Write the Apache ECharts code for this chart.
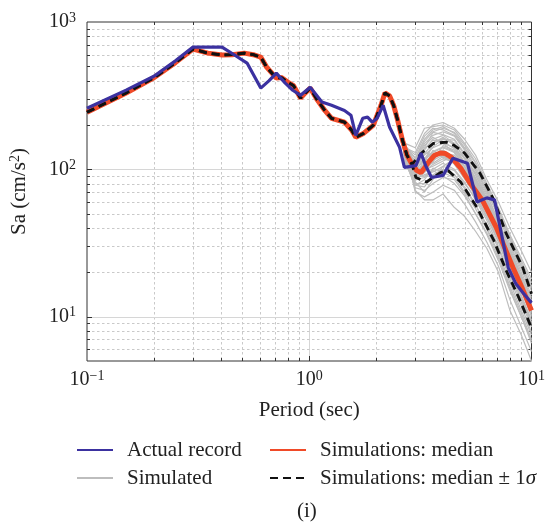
<!DOCTYPE html>
<html>
<head>
<meta charset="utf-8">
<script src="https://cdn.jsdelivr.net/npm/echarts@6/dist/echarts.min.js"></script>
<style>html,body{margin:0;padding:0;background:#fff}#c{width:548px;height:524px}</style>
</head>
<body>
<div id="c"></div>
<script>
// ---- data ----
const actualPeriods = [0.1,0.15,0.2,0.25,0.3,0.405,0.461,0.525,0.605,0.66,0.711,0.78,0.843,0.914,1.01,1.14,1.26,1.44,1.54,1.62,1.74,1.83,1.92,2.02,2.15,2.3,2.55,2.68,3.02,3.18,3.34,3.55,4.0,4.43,5.15,5.69,6.29,6.82,7.86,8.51,9.23,10];
const actualSa      = [260,345,428,545,676,676,597,526,356,400,450,385,344,318,361,286,272,251,233,170,222,226,209,222,272,193,141,103,106,129,106,88,91,119,110,60,64,62,21.5,16.7,14.3,12.4];

const medianPeriods = [0.1,0.15,0.2,0.25,0.3,0.35,0.405,0.45,0.51,0.56,0.605,0.643,0.711,0.75,0.8,0.85,0.914,0.96,1.01,1.08,1.175,1.26,1.44,1.55,1.62,1.76,1.94,2.1,2.19,2.3,2.4,2.5,2.62,2.75,2.9,3.05,3.18,3.3,3.44,3.65,3.89,4.1,4.35,4.8,5.31,6.0,6.96,8.26,9.1,10];
const medianSa      = [244,330,418,530,655,615,597,600,615,600,578,494,416,420,391,370,304,330,356,300,251,222,209,185,165,176,199,270,330,315,270,215,160,125,108,98,95,102,112,124,129,128,121,102,80,62,40,21.5,15.5,11];

const splitPeriod = 2.9; // +/- 1 sigma coincide with the median up to here
const upperPeriods = [3.2,3.62,4.13,4.5,5.0,5.87,6.77,7.69,9.14,10];
const upperSa      = [129,150,153,145,129,94,62,36.7,21.5,14.3];
const lowerPeriods = [3.02,3.37,3.89,4.22,4.8,5.69,6.77,7.69,8.76,10];
const lowerSa      = [88,82,95,98,82,55,32.9,20.6,13.5,8.4];

const simPeriods = [2.62,2.7,3.0,3.3,3.6,4.0,4.5,5.0,5.6,6.3,7.1,8.0,9.0,10.0];
const simulatedSa = [
  [160,140,130,175,200,208,190,160,125,85,60,40,28,20],
  [160,140,120,160,185,195,175,140,110,75,52,35,24,17],
  [160,135,115,150,170,180,168,135,100,70,48,31,21,15],
  [160,140,105,135,160,170,150,120,92,66,45,29,19,13.5],
  [160,130,110,125,140,150,140,118,95,68,44,28,18,12.5],
  [160,140,100,115,130,140,130,105,82,60,40,26,17,11.5],
  [160,125,95,105,120,128,125,100,76,55,37,24,16,10.5],
  [160,140,90,95,108,118,112,92,70,50,34,22,14,9.5],
  [160,120,85,88,100,110,100,82,62,45,30,19,12.5,8.5],
  [160,140,80,80,90,98,92,76,58,40,27,17,11,7.5],
  [160,115,75,72,80,88,85,68,50,36,24,15,10,6.8],
  [160,140,70,65,70,78,72,58,44,32,22,13,8.5,5.8],
  [160,130,72,62,62,68,55,48,38,29,20,11,7.5,5],
  [160,140,95,110,150,165,145,110,80,58,41,27,18,12],
  [160,135,100,130,125,135,120,98,85,62,43,30,20,14],
  [160,150,140,190,195,200,185,150,118,80,55,36,25,18],
  [160,128,108,140,178,172,160,128,98,72,50,33,22,16],
  [160,118,92,100,135,120,115,96,74,54,38,25,16,11],
  [160,110,86,92,96,105,118,98,72,51,35,23,15,10],
  [160,132,100,98,112,145,135,112,86,63,42,27,18,12],
  [160,124,78,85,102,95,88,70,54,39,26,16,10.5,7],
  [160,136,88,118,142,160,158,125,92,63,43,28,19,13],
  [160,145,112,145,165,150,130,104,79,56,39,25,16.5,11],
  [160,118,82,70,85,105,98,80,64,47,32,20,13,8.8],
  [160,128,96,120,110,122,112,90,68,48,33,21,13.5,9],
  [160,142,125,168,190,185,170,138,104,72,50,33,22,15.5],
  [160,126,104,128,150,162,150,118,88,60,41,27,18,12.2],
  [160,138,92,108,128,132,118,100,78,56,38,24,15.5,10.2],
  [160,120,84,96,115,125,108,86,66,48,33,21,13.8,9.2],
  [160,134,98,100,105,114,124,104,80,57,39,25,16,10.8],
  [160,112,78,76,92,100,92,74,57,42,29,18,11.8,7.8],
  [160,146,118,155,180,190,178,146,112,78,53,34,23,16],
  [160,130,90,90,98,90,80,66,50,37,25,15.5,10,6.6],
  [160,122,105,118,132,142,132,110,84,61,41,26,17.5,12],
  [160,138,110,138,158,155,138,112,87,62,42,27,18,12.4]
];

// axis ticks / gridlines
const xMajor = [1];
const xMinor = [0.2,0.3,0.4,0.5,0.6,0.7,0.8,0.9,2,3,4,5,6,7,8,9];
const yMajor = [10,100];
const yMinor = [6,7,8,9,20,30,40,50,60,70,80,90,200,300,400,500,600,700,800,900];

const xMin = 0.1, xMax = 10, yMin = 5, yMax = 1000;

// ---- build ----
const FONT = '"Liberation Serif","DejaVu Serif",serif';
const zip = (a, b) => a.map((v, i) => [v, b[i]]);
const medianPts = zip(medianPeriods, medianSa);
const prefix = medianPts.filter(p => p[0] <= splitPeriod);
const upperPts = prefix.concat(zip(upperPeriods, upperSa));
const lowerPts = prefix.concat(zip(lowerPeriods, lowerSa));

const gridData = [];
xMajor.forEach(v => gridData.push([v, 10, 1]));
xMinor.forEach(v => gridData.push([v, 10, 0]));
yMajor.forEach(v => gridData.push([1, v, 3]));
yMinor.forEach(v => gridData.push([1, v, 2]));

function renderGrid(params, api) {
  const cs = params.coordSys;
  const k = api.value(2);
  const children = [];
  const dotted = {stroke: '#c9c9c9', lineWidth: 1, lineDash: [2.5, 2.5]};
  const solid = {stroke: '#d6d6d6', lineWidth: 1};
  const tick = {stroke: '#333', lineWidth: 1};
  if (k <= 1) {
    const px = Math.round(api.coord([api.value(0), 10])[0]) + 0.5;
    const len = k === 1 ? 5 : 3;
    children.push({type: 'line', shape: {x1: px, y1: cs.y, x2: px, y2: cs.y + cs.height}, style: k === 1 ? solid : dotted});
    children.push({type: 'line', shape: {x1: px, y1: cs.y + cs.height, x2: px, y2: cs.y + cs.height - len}, style: tick});
    children.push({type: 'line', shape: {x1: px, y1: cs.y, x2: px, y2: cs.y + len}, style: tick});
  } else {
    const py = Math.round(api.coord([1, api.value(1)])[1]) + 0.5;
    const len = k === 3 ? 5 : 3;
    children.push({type: 'line', shape: {x1: cs.x, y1: py, x2: cs.x + cs.width, y2: py}, style: k === 3 ? solid : dotted});
    children.push({type: 'line', shape: {x1: cs.x, y1: py, x2: cs.x + len, y2: py}, style: tick});
    children.push({type: 'line', shape: {x1: cs.x + cs.width, y1: py, x2: cs.x + cs.width - len, y2: py}, style: tick});
  }
  return {type: 'group', children};
}

function powLabel(v) {
  const l = Math.log10(v);
  const e = Math.round(l);
  if (Math.abs(l - e) > 1e-6) return '';
  return '{b|10}{s|' + (e < 0 ? '\u2212' + (-e) : e) + '}';
}
const labelRich = {
  b: {fontFamily: FONT, fontSize: 20, color: '#222'},
  s: {fontFamily: FONT, fontSize: 14, color: '#222', verticalAlign: 'top', padding: [0, 0, 8, 0]}
};

const series = [
  {type: 'custom', renderItem: renderGrid, data: gridData, encode: {x: 0, y: 1}, z: 0, silent: true, clip: false}
];
simulatedSa.forEach(arr => {
  series.push({name: 'Simulated', type: 'line', data: zip(simPeriods, arr), symbol: 'none',
    lineStyle: {color: '#bdbdbd', width: 1.2}, itemStyle: {color: '#bdbdbd'}, z: 2, silent: true});
});
series.push({name: 'Simulations: median', type: 'line', data: medianPts, symbol: 'none',
  lineStyle: {color: '#f04a28', width: 5}, itemStyle: {color: '#f04a28'}, z: 3});
series.push({name: 'Simulations: median \u00b1 1\u03c3', type: 'line', data: upperPts, symbol: 'none',
  lineStyle: {color: '#111', width: 2.8, type: [8, 5]}, itemStyle: {color: '#111'}, z: 4});
series.push({name: 'Simulations: median \u00b1 1\u03c3', type: 'line', data: lowerPts, symbol: 'none',
  lineStyle: {color: '#111', width: 2.8, type: [8, 5]}, itemStyle: {color: '#111'}, z: 4});
series.push({name: 'Actual record', type: 'line', data: zip(actualPeriods, actualSa), symbol: 'none',
  lineStyle: {color: '#3b31a0', width: 3.2}, itemStyle: {color: '#3b31a0'}, z: 5});

const legendText = {fontFamily: FONT, fontSize: 21, color: '#222', lineHeight: 22, padding: [0, 0, 0, 9],
  rich: {i: {fontFamily: FONT, fontSize: 21, fontStyle: 'italic', color: '#222'}}};
const legendFmt = n => n.replace('\u03c3', '{i|\u03c3}');
const legendCommon = {orient: 'vertical', top: 434, itemWidth: 36, itemHeight: 14, itemGap: 6,
  textStyle: legendText, formatter: legendFmt, itemStyle: {opacity: 0}, selectedMode: false};

const chart = echarts.init(document.getElementById('c'), null, {renderer: 'canvas'});
chart.setOption({
  animation: false,
  backgroundColor: '#fff',
  grid: {left: 78, right: 12, top: 22, bottom: 163, show: true, borderColor: '#333', borderWidth: 1, backgroundColor: 'transparent'},
  xAxis: {
    type: 'log', logBase: 10, min: xMin, max: xMax,
    name: 'Period (sec)', nameLocation: 'middle', nameGap: 39,
    nameTextStyle: {fontFamily: FONT, fontSize: 21, color: '#222'},
    axisLine: {show: false}, axisTick: {show: false}, splitLine: {show: false},
    axisLabel: {formatter: powLabel, rich: labelRich, margin: 8, showMinLabel: true, showMaxLabel: true}
  },
  yAxis: {
    type: 'log', logBase: 10, min: yMin, max: yMax,
    name: 'Sa (cm/s{s|2})', nameLocation: 'middle', nameGap: 57,
    nameTextStyle: {fontFamily: FONT, fontSize: 21, color: '#222',
      rich: {s: {fontFamily: FONT, fontSize: 14, color: '#222', verticalAlign: 'top', padding: [0, 0, 8, 0]}}},
    axisLine: {show: false}, axisTick: {show: false}, splitLine: {show: false},
    axisLabel: {formatter: powLabel, rich: labelRich, margin: 11}
  },
  legend: [
    Object.assign({left: 71, data: ['Actual record', 'Simulated']}, legendCommon),
    Object.assign({left: 264, data: ['Simulations: median', 'Simulations: median \u00b1 1\u03c3']}, legendCommon)
  ],
  graphic: [{type: 'text', left: 297, top: 501, style: {text: '(i)', fontFamily: FONT, fontSize: 21, fill: '#222'}}],
  series
});
</script>
</body>
</html>
